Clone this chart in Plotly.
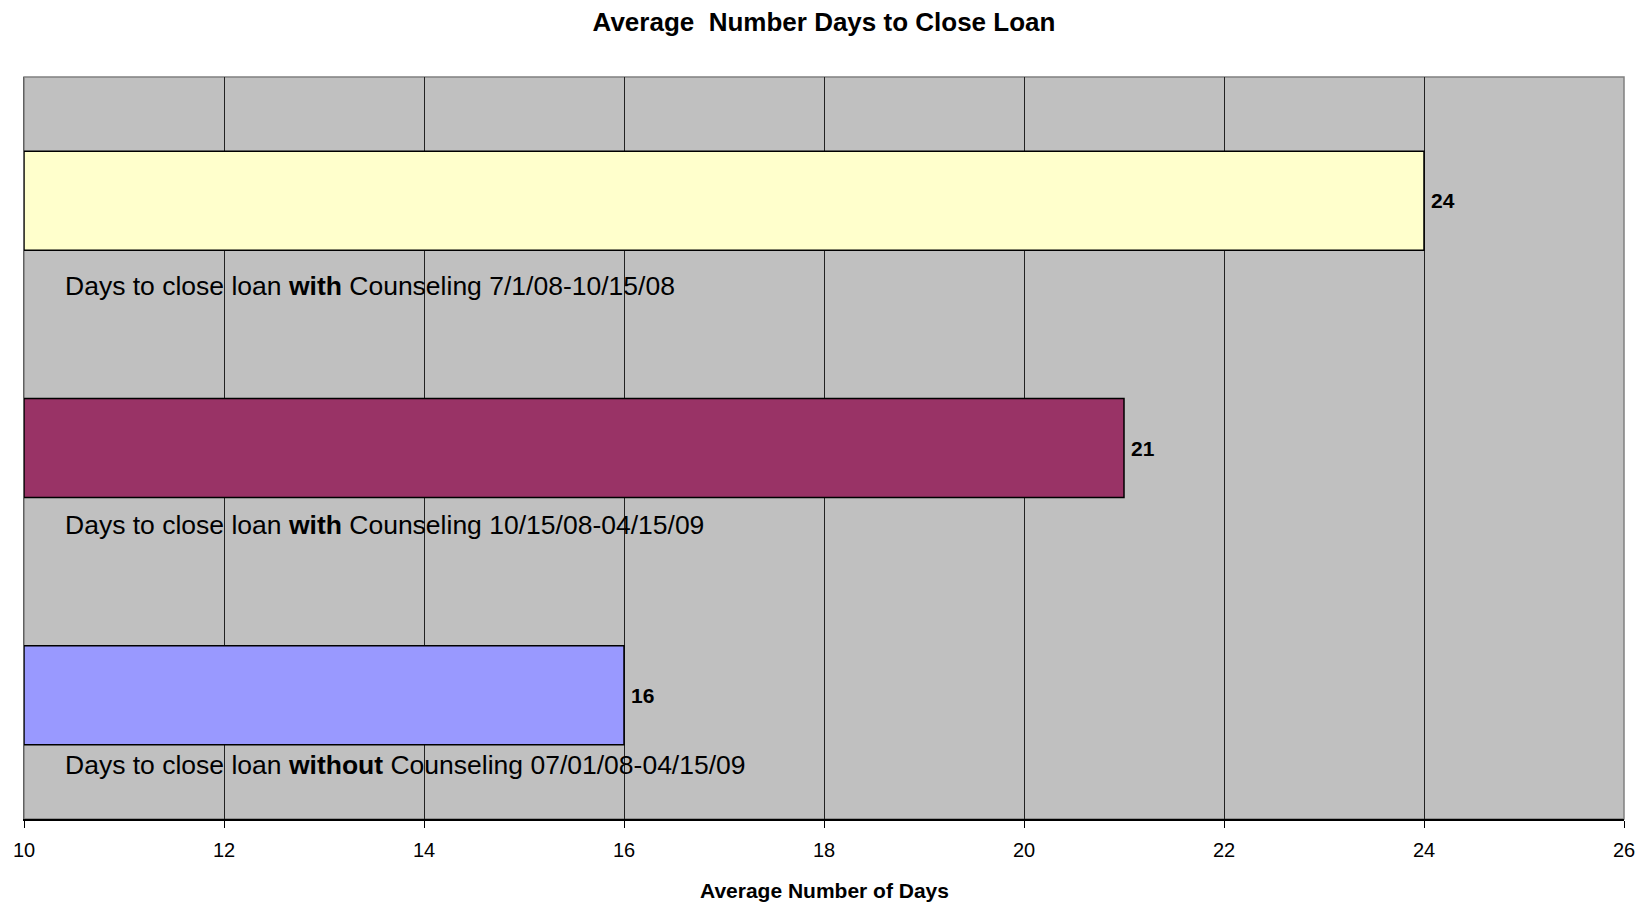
import plotly.graph_objects as go

categories = [
    "Days to close loan <b>with</b> Counseling 7/1/08-10/15/08",
    "Days to close loan <b>with</b> Counseling 10/15/08-04/15/09",
    "Days to close loan <b>without</b> Counseling 07/01/08-04/15/09",
]
values = [24, 21, 16]
colors = ["#FFFFCC", "#993366", "#9999FF"]
tick_vals = [10, 12, 14, 16, 18, 20, 22, 24, 26]
x_title = "Average Number of Days"

# label vertical offsets (px, below each bar's category centre)
label_offsets = [-85, -77, -70]

FONT = "Liberation Sans, Arial, sans-serif"
pos = list(range(len(categories)))

fig = go.Figure()
fig.add_trace(go.Bar(
    y=pos, x=[v - 10 for v in values], base=10, orientation="h",
    marker=dict(color=colors, line=dict(color="black", width=1.5)),
    width=0.4, showlegend=False, hoverinfo="skip",
))

for p, v in zip(pos, values):
    fig.add_annotation(
        x=v, y=p, xref="x", yref="y", text=f"<b>{v}</b>", showarrow=False,
        xanchor="left", yanchor="middle", xshift=5, yshift=0,
        font=dict(family=FONT, size=21, color="black"),
    )

for p, c, off in zip(pos, categories, label_offsets):
    fig.add_annotation(
        x=10, y=p, xref="x", yref="y", text=c, showarrow=False,
        xanchor="left", yanchor="middle", xshift=39, yshift=off,
        font=dict(family=FONT, size=26.5, color="black"),
    )

# x-axis title
fig.add_annotation(
    x=0.5, y=0, xref="paper", yref="paper", text=f"<b>{x_title}</b>", showarrow=False,
    xanchor="center", yanchor="middle", yshift=-71,
    font=dict(family=FONT, size=21, color="black"),
)

fig.update_layout(
    width=1630, height=905,
    margin=dict(l=16, r=14, t=69, b=94, autoexpand=False),
    paper_bgcolor="white", plot_bgcolor="#C0C0C0",
    title=dict(text="<b>Average  Number Days to Close Loan</b>", xref="paper", x=0.5, xanchor="center",
               y=1 - 14 / 905, yanchor="middle",
               font=dict(family=FONT, size=26, color="black")),
    font=dict(family=FONT, color="black"),
)
fig.update_xaxes(
    range=[10, 26], tickvals=tick_vals, ticktext=[str(t) for t in tick_vals],
    showgrid=True, gridcolor="#222222", gridwidth=1,
    showline=True, linecolor="black", linewidth=1.5,
    ticks="outside", ticklen=7, tickcolor="black", ticklabelstandoff=5,
    tickfont=dict(size=20), zeroline=False, automargin=False,
)
fig.update_yaxes(
    range=[2.5, -0.5], showticklabels=False, showgrid=False, zeroline=False,
    showline=True, linecolor="#606060", linewidth=1, automargin=False,
)
fig.add_shape(type="rect", xref="paper", yref="paper", x0=0, x1=1, y0=0, y1=1,
              line=dict(color="#808080", width=1.5), layer="below")

fig.write_html("out.html")
